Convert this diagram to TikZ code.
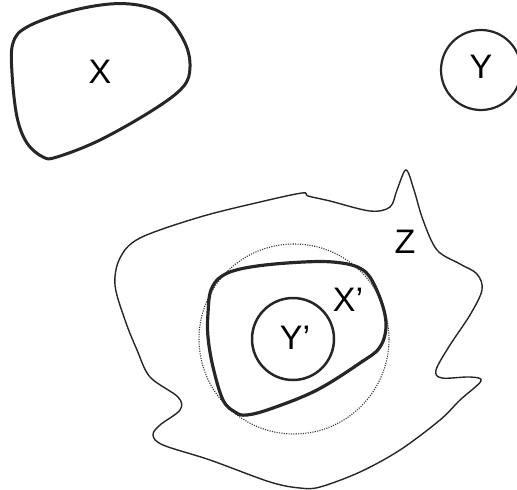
\documentclass[tikz,border=0pt]{standalone}
\usepackage{fontspec}
\setmainfont{Liberation Sans}
\begin{document}
\begin{tikzpicture}[x=1pt,y=-1pt,
  lbl/.style={font=\fontsize{34}{40}\selectfont, inner sep=0pt},
  thickline/.style={line width=3pt, draw=black!85},
  thinline/.style={line width=1.4pt, draw=black!85}]
\useasboundingbox (0,0) rectangle (517,490);
\clip (0,0) rectangle (517,490);
% X blob
\draw[thickline] plot[smooth cycle, tension=0.6] coordinates {
 (13,43) (12,73) (17,117) (27,143) (43,157) (57,157) (100,140) (153,110)
 (183,87) (190,67) (185,43) (167,17) (143,6) (110,4) (67,12) (27,27)};
\node[lbl] (X) at (100,72) {X};
% Y circle
\draw[line width=2.2pt, draw=black!85] (481,70) circle (40);
\node[lbl] (Y) at (481,67) {Y};
% Z region
\draw[thinline] plot[smooth cycle, tension=0.55] coordinates {
 (406,170) (414,190) (423,220) (437,250) (460,264) (477,274) (482,290)
 (470,315) (450,345) (436,370) (442,378) (470,377) (481,381) (460,400)
 (440,420) (400,450) (360,472) (320,487) (300,488) (270,482) (210,460)
 (163,445) (153,435) (160,425) (180,410) (178,397) (150,377) (137,350)
 (125,320) (115,285) (120,258) (140,238) (200,217) (260,202) (302,193)
 (308,196) (330,201) (370,211) (390,207) (397,190)};
\node[lbl] (Z) at (405,242) {Z};
% dotted circle
\draw[line width=1.1pt, dash pattern=on 1.1pt off 1.3pt, draw=black!80] (294,339) circle (95);
% X' blob
\draw[line width=3.2pt, draw=black!85] plot[smooth cycle, tension=0.6] coordinates {
 (208,313) (211,290) (222,276) (245,268) (287,263) (333,262) (363,270)
 (378,293) (386,323) (380,347) (360,363) (317,390) (273,408) (247,415)
 (235,412) (223,400) (213,367) (208,337)};
\node[lbl] (Xp) at (348,300) {X’};
% Y' circle
\draw[line width=2.5pt, draw=black!85] (293,339) circle (41);
\node[lbl] (Yp) at (295,338) {Y’};
\end{tikzpicture}
\end{document}
